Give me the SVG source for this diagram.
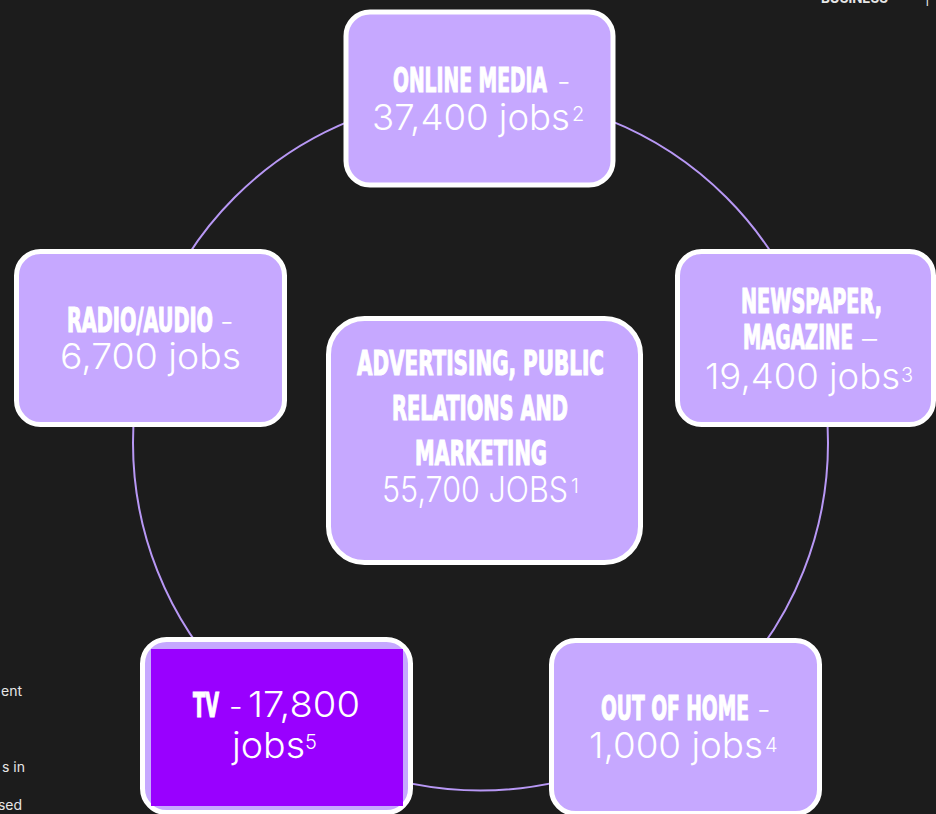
<svg xmlns="http://www.w3.org/2000/svg" width="936" height="814" viewBox="0 0 936 814">
<style>
.box{fill:#C6A8FF;stroke:#FFFFFF;stroke-width:5}
.hd{font-family:"Liberation Sans Narrow","DejaVu Sans Condensed","Liberation Sans",sans-serif;font-weight:bold;font-size:33px;fill:#FFFFFF;stroke:#FFFFFF;stroke-width:1.1px}
.nm{font-family:Inter,"Noto Sans","Liberation Sans",sans-serif;font-weight:300;font-size:36px;fill:#FFFFFF;stroke:none}
.ds{font-family:Inter,"Noto Sans","Liberation Sans",sans-serif;font-weight:300;font-size:30px;fill:#FFFFFF;stroke:none}
.sp{font-family:Inter,"Noto Sans","Liberation Sans",sans-serif;font-weight:300;font-size:20px;fill:#FFFFFF;stroke:none}
.side{font-family:Inter,"Noto Sans","Liberation Sans",sans-serif;font-size:14px;fill:#E6E6E6}
</style>
<rect width="936" height="814" fill="#1C1C1C"/>
<g id="page-text">
<text class="side" x="821" y="3" font-weight="bold" textLength="67" lengthAdjust="spacingAndGlyphs">BUSINESS</text>
<text class="side" x="925" y="3">|</text>
<text class="side" x="22" y="696" text-anchor="end">ent</text>
<text class="side" x="25" y="772" text-anchor="end">s in</text>
<text class="side" x="22" y="810" text-anchor="end">sed</text>
</g>
<g id="connectors">
<circle cx="480.5" cy="443" r="347.5" fill="none" stroke="#B898F5" stroke-width="2"/>
</g>
<g id="online-media">
<rect class="box" x="346" y="12" width="267" height="173" rx="24"/>
<text y="92"><tspan class="hd" x="393" textLength="154" lengthAdjust="spacingAndGlyphs">ONLINE MEDIA</tspan><tspan class="ds" x="557">-</tspan></text>
<text y="130"><tspan class="nm" x="372" textLength="198" lengthAdjust="spacingAndGlyphs">37,400 jobs</tspan><tspan class="sp" x="572" y="121">2</tspan></text>
</g>
<g id="radio-audio">
<rect class="box" x="16.5" y="251.5" width="268" height="173" rx="24"/>
<text y="332"><tspan class="hd" x="67" textLength="146" lengthAdjust="spacingAndGlyphs">RADIO/AUDIO</tspan><tspan class="ds" x="220">-</tspan></text>
<text class="nm" x="60" y="369" textLength="181" lengthAdjust="spacingAndGlyphs">6,700 jobs</text>
</g>
<g id="newspaper-magazine">
<rect class="box" x="677.5" y="251.5" width="256" height="173" rx="24"/>
<text class="hd" x="741" y="313" textLength="141" lengthAdjust="spacingAndGlyphs">NEWSPAPER,</text>
<text y="349"><tspan class="hd" x="743" textLength="110" lengthAdjust="spacingAndGlyphs">MAGAZINE</tspan><tspan class="ds" x="862">–</tspan></text>
<text y="389"><tspan class="nm" x="705" textLength="195" lengthAdjust="spacingAndGlyphs">19,400 jobs</tspan><tspan class="sp" x="901" y="382">3</tspan></text>
</g>
<g id="advertising">
<rect class="box" x="328.5" y="318.5" width="312" height="244" rx="36"/>
<text class="hd" x="357" y="375" textLength="247" lengthAdjust="spacingAndGlyphs">ADVERTISING, PUBLIC</text>
<text class="hd" x="392" y="420" textLength="176" lengthAdjust="spacingAndGlyphs">RELATIONS AND</text>
<text class="hd" x="415" y="465" textLength="132" lengthAdjust="spacingAndGlyphs">MARKETING</text>
<text y="502"><tspan class="nm" x="382" font-size="30" textLength="186" lengthAdjust="spacingAndGlyphs">55,700 JOBS</tspan><tspan class="sp" x="571" y="493" font-size="14">1</tspan></text>
</g>
<g id="out-of-home">
<rect class="box" x="551.5" y="640.5" width="268" height="173" rx="24"/>
<text y="720"><tspan class="hd" x="601" textLength="148" lengthAdjust="spacingAndGlyphs">OUT OF HOME</tspan><tspan class="ds" x="757">-</tspan></text>
<text y="758"><tspan class="nm" x="589" textLength="174" lengthAdjust="spacingAndGlyphs">1,000 jobs</tspan><tspan class="sp" x="765" y="752">4</tspan></text>
</g>
<g id="tv">
<rect class="box" x="142.5" y="639.5" width="268" height="173" rx="24"/>
<rect x="151" y="649" width="252" height="157" fill="#9900FF"/>
<text y="717"><tspan class="hd" x="193" textLength="26" lengthAdjust="spacingAndGlyphs">TV</tspan><tspan class="ds" x="229">-</tspan><tspan class="nm" x="248" textLength="112" lengthAdjust="spacingAndGlyphs">17,800</tspan></text>
<text y="758"><tspan class="nm" x="232" textLength="73" lengthAdjust="spacingAndGlyphs">jobs</tspan><tspan class="sp" x="305" y="749">5</tspan></text>
</g>
</svg>
